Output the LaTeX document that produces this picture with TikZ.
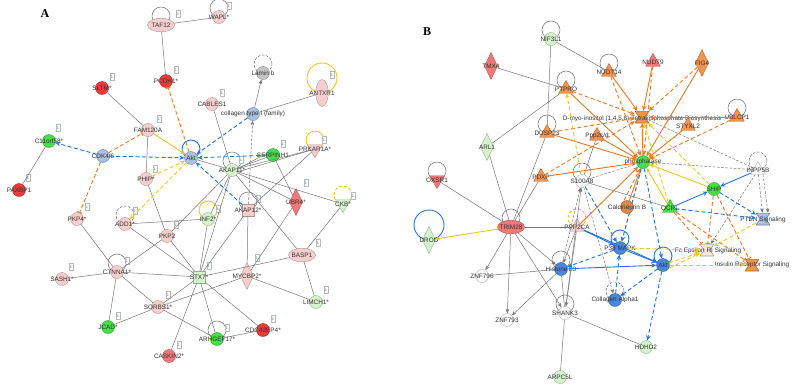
\documentclass[tikz,border=0pt]{standalone}
\usepackage{fontspec}
\setmainfont{Liberation Sans}
\newfontfamily\serifbold{Liberation Serif}
\usetikzlibrary{shapes.geometric,arrows.meta}
\definecolor{cpink}{HTML}{F6CECE}
\definecolor{cred}{HTML}{EC3A3A}
\definecolor{csalmon}{HTML}{F07878}
\definecolor{cgreen}{HTML}{44E044}
\definecolor{clgreen}{HTML}{D4F3CC}
\definecolor{cblue}{HTML}{A8C0E2}
\definecolor{cdblue}{HTML}{4A86DA}
\definecolor{corange}{HTML}{F29450}
\definecolor{cbrown}{HTML}{D98A4A}
\definecolor{ccream}{HTML}{F6E7D8}
\definecolor{cgrey}{HTML}{C4C4C4}
\definecolor{cwhite}{HTML}{FAFAFA}
\definecolor{eorange}{HTML}{EE7722}
\definecolor{eyellow}{HTML}{ECC81E}
\definecolor{eblue}{HTML}{2276DE}
\definecolor{egrey}{HTML}{777777}
\definecolor{lblc}{HTML}{333333}
\tikzset{
 nd/.style={inner sep=0pt, line width=0.4pt},
 cir/.style={nd, circle, minimum size=13pt, fill=#1, draw=#1!72!black},
 elh/.style={nd, ellipse, minimum width=27pt, minimum height=13.5pt, fill=#1, draw=#1!72!black},
 elv/.style={nd, ellipse, minimum width=12.5pt, minimum height=27pt, fill=#1, draw=#1!72!black},
 dia/.style={nd, diamond, minimum width=13pt, minimum height=27pt, fill=#1, draw=#1!72!black},
 tri/.style={nd, regular polygon, regular polygon sides=3, minimum size=17pt, fill=#1, draw=#1!72!black},
 trd/.style={tri=#1, shape border rotate=180},
 sqr/.style={nd, rectangle, minimum size=11.5pt, fill=#1, draw=#1!72!black},
 hg/.style={nd, rectangle, minimum width=14pt, minimum height=12pt,
   path picture={\filldraw[fill=#1, draw=#1!70!black, line width=0.6pt]
     (path picture bounding box.north west) -- (path picture bounding box.north east)
     -- ([xshift=-4pt]path picture bounding box.east) -- (path picture bounding box.south east)
     -- (path picture bounding box.south west) -- ([xshift=4pt]path picture bounding box.west) -- cycle;}},
 lbl/.style={inner sep=0pt, text=lblc, font=\fontsize{6.4}{7}\selectfont},
 ibox/.style={draw=gray!55, fill=white, minimum width=4.4pt, minimum height=6.8pt, inner sep=0pt,
   line width=0.3pt, font=\fontsize{3.8}{4}\selectfont, text=eblue},
 panel/.style={inner sep=0pt, font=\serifbold\bfseries\fontsize{12}{12}\selectfont},
 ge/.style={draw=egrey, line width=0.5pt},
 gea/.style={ge, -{Stealth[length=4.5pt,width=3.6pt]}},
 gde/.style={ge, dash pattern=on 2.6pt off 1.6pt},
 gdea/.style={gde, -{Stealth[length=4.5pt,width=3.6pt]}},
 oe/.style={draw=eorange, line width=0.9pt, -{Stealth[length=5pt,width=4.5pt]}},
 ode/.style={oe, dash pattern=on 4pt off 2.5pt},
 obar/.style={draw=eorange, line width=0.9pt, dash pattern=on 4pt off 2.5pt, -{Bar[width=5pt]}},
 ye/.style={draw=eyellow, line width=0.9pt, -{Stealth[length=5pt,width=4.5pt]}},
 yde/.style={ye, dash pattern=on 4pt off 2.5pt},
 be/.style={draw=eblue, line width=0.9pt, -{Stealth[length=5pt,width=4.5pt]}},
 bde/.style={be, dash pattern=on 4pt off 2.5pt},
 lpg/.style={draw=egrey, line width=0.55pt},
 lpgd/.style={lpg, dash pattern=on 2.6pt off 1.6pt},
 lpy/.style={draw=eyellow, line width=0.9pt},
 lpyd/.style={lpy, dash pattern=on 3pt off 2pt},
 lpb/.style={draw=eblue, line width=0.9pt},
}
\newcommand{\gnode}[4]{\node[#1] (#2) at (#3) {}; \node[lbl] at (#2) {#4};}
\newcommand{\selfloop}[3][9]{\draw[#2] ([yshift=#1pt]#3.center) circle[radius=#1pt];}
\begin{document}
\begin{tikzpicture}[x=1pt,y=-1pt]
\useasboundingbox (0,0) rectangle (792,389);
\fill[white] (0,0) rectangle (792,389);
\node[panel] (LA) at (45,14) {A};
\node[panel] (LB) at (427,32) {B};

% ---------- Panel A: nodes ----------
\coordinate (cTAF12) at (161,25);
\coordinate (cWAPL) at (219,17);
\coordinate (cLaminb) at (263,73);
\coordinate (cAkt) at (191,158);
\coordinate (cADD1) at (125,224);
\coordinate (cAKAP11) at (232,170);
\coordinate (cPRKAR1A) at (315,149);
\coordinate (cCKB) at (343,204);
\coordinate (cAKAP12) at (248,210);
\coordinate (cINF2) at (208,219);
\coordinate (cCTNNA1) at (117,272);
\coordinate (cARHGEF17) at (217,339);
\selfloop{lpg}{cTAF12}
\selfloop{lpg}{cWAPL}
\selfloop{lpgd}{cLaminb}
\draw[lpy] (322,78) circle[radius=15pt];
\selfloop{lpb}{cAkt}
\selfloop{lpgd}{cADD1}
\selfloop{lpg}{cAKAP11}
\selfloop{lpy}{cPRKAR1A}
\selfloop{lpyd}{cCKB}
\selfloop{lpg}{cAKAP12}
\selfloop{lpy}{cINF2}
\selfloop{lpg}{cCTNNA1}
\selfloop{lpg}{cARHGEF17}

\gnode{elh=cpink}{TAF12}{cTAF12}{TAF12}
\gnode{cir=cpink}{WAPL}{cWAPL}{WAPL*}
\gnode{cir=cred}{PCDH1}{166,81}{PCDH1*}
\gnode{cir=cred}{SLTM}{102,88}{SLTM*}
\gnode{cir=cpink}{FAM120A}{148,130}{FAM120A}
\gnode{cir=cgrey}{Laminb}{cLaminb}{Lamin b}
\gnode{elv=cpink}{ANTXR1}{322,93}{ANTXR1}
\gnode{cir=cpink}{CABLES1}{212,104}{CABLES1}
\gnode{cir=cblue}{coll}{253,114}{collagen type I (family)}
\gnode{cir=cgreen}{C11}{49,141}{C11orf58*}
\gnode{cir=cred}{PAXBP1}{19,190}{PAXBP1}
\gnode{cir=cblue}{CDK}{103,156}{CDK4/6}
\gnode{cir=cblue}{Akt}{cAkt}{Akt}
\gnode{cir=cpink}{PHIP}{146,179}{PHIP*}
\gnode{cir=cpink}{PKP4}{77,219}{PKP4*}
\gnode{cir=cpink}{ADD1}{cADD1}{ADD1*}
\gnode{cir=cpink}{PKP2}{167,236}{PKP2}
\gnode{cir=clgreen}{AKAP11}{cAKAP11}{AKAP11*}
\gnode{cir=cgreen}{SERPINH1}{273,155}{SERPINH1}
\gnode{trd=cpink}{PRKAR1A}{cPRKAR1A}{PRKAR1A*}
\gnode{dia=csalmon}{UBR4}{296,202}{UBR4*}
\gnode{trd=clgreen}{CKB}{cCKB}{CKB*}
\gnode{sqr=cpink}{AKAP12}{cAKAP12}{AKAP12*}
\gnode{cir=clgreen}{INF2}{cINF2}{INF2*}
\gnode{elh=cpink}{BASP1}{302,255}{BASP1}
\gnode{cir=cpink}{CTNNA1}{cCTNNA1}{CTNNA1*}
\gnode{cir=cpink}{SASH1}{62,279}{SASH1*}
\gnode{cir=cpink}{SORBS1}{158,307}{SORBS1*}
\gnode{cir=cgreen}{JCAD}{108,327}{JCAD*}
\gnode{cir=csalmon}{CASKIN2}{169,356}{CASKIN2*}
\gnode{sqr=clgreen}{STX7}{199,277}{STX7*}
\gnode{dia=cpink}{MYCBP2}{247,276}{MYCBP2*}
\gnode{cir=clgreen}{LIMCH1}{316,302}{LIMCH1*}
\gnode{cir=cred}{CDC42EP4}{263,330}{CDC42EP4*}
\gnode{cir=cgreen}{ARHGEF17}{cARHGEF17}{ARHGEF17*}

% info boxes
\foreach \n/\p in {iTAF12/{178,14}, iWAPL/{229,6}, iPCDH1/{176,70}, iSLTM/{112,77}, iFAM/{159,119},
  iCAB/{222,93}, iANT/{332,75}, iC11/{58,128}, iPAX/{28,178}, iPHIP/{155,169}, iPKP4/{87,207},
  iADD1/{135,211}, iPKP2/{176,225}, iAK11/{241,160}, iSERP/{283,144}, iPRK/{324,140}, iUBR4/{306,183},
  iCKB/{353,196}, iAK12/{258,199}, iINF2/{218,209}, iBASP/{318,243}, iCTN/{127,261}, iSASH/{71,267},
  iSORB/{168,295}, iJCAD/{118,316}, iCASK/{179,345}, iSTX7/{209,266}, iMYC/{257,258}, iLIM/{326,290},
  iCDC/{273,319}, iARH/{227,328}}
  {\node[ibox] (\n) at (\p) {1};}

% ---------- Panel A: edges ----------
\draw[ge] (TAF12) -- (WAPL);
\draw[ge] (TAF12) -- (PCDH1);
\draw[ge] (SLTM) -- (FAM120A);
\draw[ge] (C11) -- (PAXBP1);
\draw[ge] (FAM120A) -- (PHIP);
\draw[ge] (PHIP) -- (PKP2);
\draw[ge] (CABLES1) -- (AKAP11);
\draw[gea] (coll) -- (Laminb);
\draw[ge] (coll) -- (ANTXR1);
\draw[gdea] (AKAP12) -- (coll);
\draw[ge] (Akt) -- (AKAP11);
\draw[ge] ([yshift=1.5pt]AKAP11.east) -- ([yshift=1.5pt]SERPINH1.west);
\draw[ge] (AKAP11) -- (SERPINH1);
\draw[ge] (AKAP11) -- (PRKAR1A);
\draw[ge] ([yshift=-1.5pt]AKAP11.east) -- ([yshift=-1.5pt]PRKAR1A.west);
\draw[ge] (AKAP11) -- (UBR4);
\draw[ge] (AKAP11) -- (CKB);
\draw[ge] (AKAP11) -- (INF2);
\draw[ge] (AKAP11) -- (PKP2);
\draw[ge] (AKAP11) -- (STX7);
\draw[ge] (AKAP11) -- (BASP1);
\draw[ge] (SERPINH1) -- (UBR4);
\draw[ge] (PRKAR1A) -- (AKAP12);
\draw[ge] (UBR4) -- (MYCBP2);
\draw[ge] (CKB) -- (BASP1);
\draw[ge] (AKAP12) -- (MYCBP2);
\draw[ge] (AKAP12) -- (STX7);
\draw[ge] (INF2) -- (STX7);
\draw[ge] (ADD1) -- (INF2);
\draw[ge] (ADD1) -- (STX7);
\draw[ge] (PKP2) -- (STX7);
\draw[ge] (PKP2) -- (CTNNA1);
\draw[ge] (PKP4) -- (CTNNA1);
\draw[ge] (SASH1) -- (CTNNA1);
\draw[ge] (CTNNA1) -- (STX7);
\draw[ge] (CTNNA1) -- (SORBS1);
\draw[ge] (CTNNA1) -- (JCAD);
\draw[ge] (SORBS1) -- (JCAD);
\draw[ge] (SORBS1) -- (STX7);
\draw[ge] (SORBS1) -- (ARHGEF17);
\draw[ge] (SORBS1) -- (MYCBP2);
\draw[ge] (CASKIN2) -- (STX7);
\draw[ge] (STX7) -- (ARHGEF17);
\draw[ge] (STX7) -- (CDC42EP4);
\draw[ge] (STX7) -- (BASP1);
\draw[ge] (ARHGEF17) -- (CDC42EP4);
\draw[ge] (MYCBP2) -- (LIMCH1);
\draw[ge] (BASP1) -- (LIMCH1);
\draw[obar] (Akt) -- (PCDH1);
\draw[obar] (CDK) -- (FAM120A);
\draw[obar] (CDK) -- (PKP4);
\draw[bde] (CDK) -- (C11);
\draw[bde] (CDK) -- (Akt);
\draw[ye] (FAM120A) -- (Akt);
\draw[yde] (PHIP) -- (Akt);
\draw[yde] (Akt) -- (ADD1);
\draw[bde] (coll) -- (Akt);
\draw[bde] (SERPINH1) -- (Akt);
\draw[bde] (AKAP12) -- (Akt);

% ---------- Panel B: nodes ----------
\coordinate (cNIF) at (551,39);
\coordinate (cPTPRO) at (566,89);
\coordinate (cNUDT14) at (609,72);
\coordinate (cUBL) at (737,117);
\coordinate (cDUSP) at (547,133);
\coordinate (cOXSR) at (437,180);
\coordinate (cS100) at (582,181);
\coordinate (cINPP) at (758,170);
\coordinate (cTRIM) at (511,227);
\coordinate (cPPP2CA) at (577,227);
\coordinate (cP38) at (620,248);
\coordinate (cAktB) at (663,265);
\coordinate (cHist) at (561,269);
\coordinate (cSHANK) at (565,313);
\coordinate (cCol) at (615,300);
\selfloop{lpg}{cNIF}
\selfloop{lpg}{cPTPRO}
\selfloop{lpg}{cNUDT14}
\selfloop{lpg}{cUBL}
\selfloop{lpg}{cDUSP}
\selfloop{lpg}{cOXSR}
\selfloop{lpg}{cS100}
\selfloop{lpgd}{cINPP}
\selfloop{lpg}{cTRIM}
\selfloop{lpyd}{cPPP2CA}
\selfloop{lpb}{cP38}
\selfloop{lpb}{cAktB}
\selfloop{lpg}{cHist}
\selfloop{lpg}{cSHANK}
\selfloop{lpgd}{cCol}
\draw[lpb] (429,225) circle[radius=15pt];

\gnode{cir=clgreen}{NIF}{cNIF}{NIF3L1}
\gnode{dia=csalmon}{TMX4}{491,66}{TMX4}
\gnode{tri=corange}{PTPRO}{cPTPRO}{PTPRO}
\gnode{tri=corange}{NUDT14}{cNUDT14}{NUDT14}
\gnode{tri=csalmon}{NUDT9}{653,62}{NUDT9}
\gnode{dia=corange}{FIG4}{702,63}{FIG4}
\gnode{hg=corange}{Dmyo}{642,117}{}
\node[lbl] (Dmyolbl) at (642,119) {D-myo-inositol (1,4,5,6)-Tetrakisphosphate Biosynthesis};
\gnode{tri=corange}{UBL}{cUBL}{UBLCP1}
\gnode{tri=corange}{STYX}{688,126}{STYXL2}
\gnode{tri=corange}{DUSP}{cDUSP}{DUSP23}
\gnode{tri=corange}{Ppp}{597,136}{Ppp2c/d}
\gnode{dia=clgreen}{ARL1}{487,147}{ARL1}
\gnode{cir=cgreen}{phos}{643,162}{phosphatase}
\gnode{trd=csalmon}{OXSR}{cOXSR}{OXSR1}
\gnode{tri=corange}{PDXP}{541,177}{PDXP}
\gnode{cir=cwhite}{S100}{cS100}{S100A8}
\gnode{tri=cwhite}{INPP}{cINPP}{INPP5B}
\gnode{cir=cgreen}{SHIP}{714,189}{SHIP}
\gnode{cir=cbrown}{Calc}{627,207}{Calcineurin B}
\gnode{tri=cgreen}{OCRL}{670,208}{OCRL}
\gnode{elh=csalmon}{TRIM}{cTRIM}{TRIM28}
\gnode{dia=clgreen}{DROD}{429,240}{DROD}
\gnode{tri=cpink}{PPP2CA}{cPPP2CA}{PPP2CA}
\gnode{hg=cblue}{PTEN}{763,219}{}
\node[lbl] (PTENlbl) at (763,220) {PTEN Signaling};
\gnode{cir=cdblue}{P38}{cP38}{P38 MAPK}
\gnode{hg=ccream}{FcE}{707,250}{}
\node[lbl] (FcElbl) at (708,251) {Fc Epsilon RI Signaling};
\gnode{cir=cdblue}{AktB}{cAktB}{Akt}
\gnode{hg=corange}{Ins}{752,265}{}
\node[lbl] (Inslbl) at (752,265) {Insulin Receptor Signaling};
\gnode{cir=cdblue}{Hist}{cHist}{Histone h3}
\gnode{cir=cwhite}{ZNF796}{482,276}{ZNF796}
\gnode{cir=cwhite}{ZNF793}{507,320}{ZNF793}
\gnode{cir=cwhite}{SHANK}{cSHANK}{SHANK3}
\gnode{cir=cdblue}{Col}{cCol}{Collagen Alpha1}
\gnode{cir=clgreen}{ARPC}{560,377}{ARPC5L}
\gnode{cir=clgreen}{HDHD2}{646,347}{HDHD2}

% ---------- Panel B: edges ----------
\draw[ge] (NIF) -- (NUDT14);
\draw[ge] (NIF) -- (DUSP);
\draw[ge] (TMX4) -- (PTPRO);
\draw[ge] (PTPRO) -- (ARL1);
\draw[ge] (ARL1) -- (TRIM);
\draw[ge] (OXSR) -- (TRIM);
\draw[ge] (TRIM) -- (DUSP);
\draw[ge] (TRIM) -- (PDXP);
\draw[ge] (TRIM) -- (PPP2CA);
\draw[gea] (TRIM) -- (ZNF796);
\draw[gea] (TRIM) -- (ZNF793);
\draw[gea] (TRIM) -- (Hist);
\draw[gea] (TRIM) -- (SHANK);
\draw[ge] (Hist) -- (ZNF796);
\draw[gea] (Hist) -- (ZNF793);
\draw[ge] (Hist) -- (SHANK);
\draw[gea] (PPP2CA) -- (Hist);
\draw[gea] (PPP2CA) -- (SHANK);
\draw[gdea] (Hist) -- (S100);
\draw[gea] (SHANK) -- (S100);
\draw[ge] (SHANK) -- (ARPC);
\draw[ge] (SHANK) -- (HDHD2);
\draw[ge] (S100) -- (OCRL);
\draw[ge] (Ppp) -- (S100);
\draw[gdea] (S100) -- (Col);
\draw[gde] (S100) -- (phos);
\draw[gdea] (INPP) -- (phos);
\draw[gde] (INPP) -- (Dmyo);
\draw[gdea] (INPP) -- (PTEN);
\draw[gdea] ([xshift=5pt]INPP.south) -- ([xshift=5pt]PTEN.north);
\draw[gdea] (INPP) -- (FcE);
% orange
\draw[oe] (NUDT14) -- (Dmyo);
\draw[ode] (NUDT14) -- (phos);
\draw[oe] (NUDT9) -- (Dmyo);
\draw[ode] (NUDT9) -- (phos);
\draw[ode] (FIG4) -- (Dmyo);
\draw[oe] (FIG4) -- (phos);
\draw[oe] (PTPRO) -- (phos);
\draw[ode] (PTPRO) -- (Dmyo);
\draw[oe] (DUSP) -- (phos);
\draw[ode] (DUSP) -- (Dmyo);
\draw[oe] (PDXP) -- (phos);
\draw[ode] (PDXP) -- (Dmyo);
\draw[oe] (Ppp) -- (phos);
\draw[oe] (UBL) -- (Dmyo);
\draw[ode] (UBL) -- (phos);
\draw[oe] (STYX) -- (phos);
\draw[oe] (Calc) -- (phos);
\draw[ode] ([xshift=-3pt]Calc.north) -- ([xshift=-3pt]phos.south);
\draw[oe] (PPP2CA) -- (phos);
\draw[oe] (phos) -- (Dmyo);
\draw[obar] (SHIP) -- (FcE);
\draw[obar] (SHIP) -- (Ins);
\draw[obar] (OCRL) -- (FcE);
\draw[obar] (OCRL) -- (Ins);
% yellow
\draw[ye] (TRIM) -- (DROD);
\draw[ye] (OCRL) -- (phos);
\draw[yde] (OCRL) -- (Dmyo);
\draw[ye] (SHIP) -- (phos);
\draw[yde] (SHIP) -- (Dmyo);
\draw[yde] (S100) -- (PTPRO);
\draw[yde] (phos) -- (P38);
\draw[yde] (P38) -- (FcE);
\draw[yde] (AktB) -- (FcE);
\draw[yde] ([yshift=-3pt]AktB.east) -- ([yshift=-3pt]FcE.west);
\draw[yde] (AktB) -- (Ins);
\draw[yde] (PTEN) -- (FcE);
% blue
\draw[be] (OCRL) -- (SHIP);
\draw[be] (INPP) -- (SHIP);
\draw[bde] (SHIP) -- (PTEN);
\draw[bde] (OCRL) -- (PTEN);
\draw[bde] (phos) -- (P38);
\draw[bde] (phos) -- (AktB);
\draw[be] (PPP2CA) -- (P38);
\draw[be] (PPP2CA) -- (AktB);
\draw[be] (P38) -- (AktB);
\draw[be] (Hist) -- (AktB);
\draw[bde] (P38) -- (Hist);
\draw[bde] (AktB) -- (Col);
\draw[bde] (Col) -- (P38);
\draw[bde] (AktB) -- (HDHD2);
\draw[bde] (S100) -- (P38);
\end{tikzpicture}
\end{document}
